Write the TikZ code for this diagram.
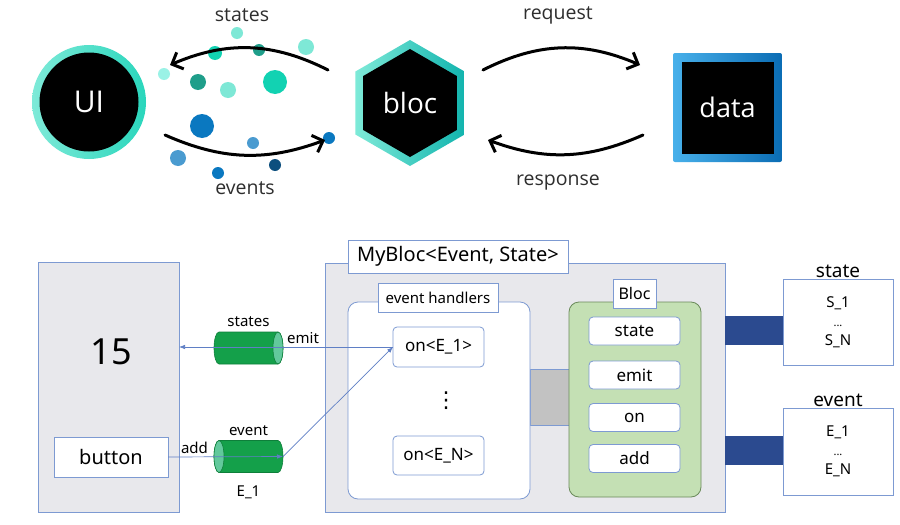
\documentclass[tikz,border=0pt]{standalone}
\usepackage{fontspec}
\setmainfont{Noto Sans}
\newfontfamily\topfont{Open Sans}
\newfontfamily\symfont{DejaVu Sans}
\usetikzlibrary{shapes.geometric,arrows.meta}

\definecolor{panelgray}{HTML}{E8E8EC}
\definecolor{edgeblue}{HTML}{7D9AD2}
\definecolor{wireblue}{HTML}{5F7FC5}
\definecolor{pipegreen}{HTML}{14A04A}
\definecolor{pipeend}{HTML}{62C99C}
\definecolor{pipeedge}{HTML}{0E7F3A}
\definecolor{blocgreen}{HTML}{C4E0B4}
\definecolor{blocedge}{HTML}{6A8A5A}
\definecolor{bargray}{HTML}{C2C2C2}
\definecolor{barblue}{HTML}{2B4A8F}
\definecolor{tealA}{HTML}{7EEAD8}
\definecolor{tealB}{HTML}{2AD6BC}
\definecolor{tealC}{HTML}{12B4AE}
\definecolor{skyA}{HTML}{48B0EA}
\definecolor{skyB}{HTML}{0A6CB4}
\definecolor{dotLight}{HTML}{7EE8D6}
\definecolor{dotMid}{HTML}{12D2B2}
\definecolor{dotDark}{HTML}{1F9E8A}
\definecolor{dotPale}{HTML}{9AF2E6}
\definecolor{dotBlue}{HTML}{0A78C0}
\definecolor{dotSky}{HTML}{4A9BD0}
\definecolor{dotNavy}{HTML}{0D4F7E}
\definecolor{textgray}{HTML}{2E2E2E}

\newcommand{\fsz}[1]{\fontsize{#1}{#1}\selectfont}

\begin{document}
\begin{tikzpicture}[x=1pt, y=-1pt,
    box/.style={draw=edgeblue, fill=white, line width=0.8pt, inner sep=0pt, outer sep=0pt},
    panel/.style={box, fill=panelgray},
    pipe/.style={inner sep=0pt, outer sep=0pt, minimum width=69pt, minimum height=32pt},
    method/.style={box, rounded corners=4pt, minimum width=91pt, minimum height=28pt, font=\fsz{17}},
    wire/.style={draw=wireblue, line width=0.7pt, -{Latex[length=6pt,width=4.5pt]}},
    flow/.style={line width=3pt, line cap=round, -{Straight Barb[length=9pt,width=18pt]}},
    bar/.style={fill=barblue, minimum width=58pt, minimum height=29pt, inner sep=0pt, outer sep=0pt},
    toplabel/.style={font=\topfont\fsz{19.5}, text=textgray}]
  \fill[white] (0,0) rectangle (900,525);

  \node[circle, minimum size=114pt, inner sep=0pt, left color=tealA, right color=tealB] (uiring) at (89,102) {};
  \node[circle, fill=black, minimum size=99pt, inner sep=0pt, text=white, font=\topfont\fsz{30}] (ui) at (uiring) {UI};
  \node[regular polygon, regular polygon sides=6, shape border rotate=30, minimum size=126pt, inner sep=0pt, left color=tealA, right color=tealC] (blocring) at (410,103) {};
  \node[regular polygon, regular polygon sides=6, shape border rotate=30, minimum size=108pt, inner sep=0pt, fill=black, text=white, font=\topfont\fsz{28}] (bloc) at (blocring) {bloc};
  \node[minimum size=109pt, rounded corners=2pt, left color=skyA, right color=skyB] (dataring) at (727.5,107.5) {};
  \node[minimum size=92pt, fill=black, text=white, font=\topfont\fsz{27}] (data) at (dataring) {data};

  \foreach \x/\y/\r/\c in {237/33/6/dotLight, 215/53/7/dotMid, 259/50/6/dotDark, 306/47/8/dotLight, 164/74/6/dotPale, 198/82/8/dotDark, 228/90/8/dotLight, 275/82/12/dotMid, 202/126/12/dotBlue, 253/143/6/dotSky, 329/138/6/dotBlue, 178/158/8/dotSky, 218/173/6/dotBlue, 275/165/6/dotNavy}
    \fill[\c] (\x,\y) circle[radius=\r pt];

  \coordinate (sA) at (328,70);
  \coordinate (sB) at (170,65);
  \coordinate (eA) at (165,135);
  \coordinate (eB) at (325,140);
  \coordinate (qA) at (483,70);
  \coordinate (qB) at (640,65);
  \coordinate (rA) at (643,135);
  \coordinate (rB) at (488,140);
  \draw[flow] (sA) to[bend right=25] (sB);
  \draw[flow] (eA) to[bend right=22] (eB);
  \draw[flow] (qA) to[bend left=25] (qB);
  \draw[flow] (rA) to[bend left=22] (rB);

  \node[toplabel] (stateslabel) at (242,15) {states};
  \node[toplabel] (eventslabel) at (245,188) {events};
  \node[toplabel] (requestlabel) at (558,15) {request};
  \node[toplabel] (responselabel) at (558,183) {response};

  \node[panel, minimum width=141pt, minimum height=250pt] (uibox) at (108.5,387) {};
  \node[font=\fsz{36}] (count) at (111,352) {15};
  \node[box, minimum width=114pt, minimum height=40pt, font=\fsz{20}] (button) at (111,457) {button};

  \node[pipe, label={[font=\fsz{15}, inner sep=2pt, label distance=3pt]above:states}] (st) at (248.5,348) {};
  \node[pipe, label={[font=\fsz{15}, inner sep=2pt, label distance=3pt]above:event}, label={[font=\fsz{15}, label distance=10pt]below:E\_1}] (ev) at (248.5,456.5) {};
  \foreach \p/\s in {st/1, ev/-1} {
    \filldraw[fill=pipegreen, draw=pipeedge, line width=0.6pt] ([xshift=5pt]\p.north west) -- ([xshift=-5pt]\p.north east)
      arc[start angle=90, end angle=-90, x radius=5pt, y radius=16pt] -- ([xshift=5pt]\p.south west)
      arc[start angle=270, end angle=90, x radius=5pt, y radius=16pt] -- cycle;
    \filldraw[fill=pipeend, draw=pipeedge, line width=0.6pt] ([xshift=\s*29.5pt]\p.center) ellipse[x radius=5pt, y radius=16pt];
  }

  \node[panel, minimum width=400pt, minimum height=249pt] (mybloc) at (525,387.5) {};
  \node[box, minimum width=220pt, minimum height=33pt, font=\fsz{20}] (title) at (458,256.5) {MyBloc<Event, State>};
  \node[panel, fill=bargray, minimum width=39pt, minimum height=56pt] (link) at (549.5,397) {};
  \node[box, rounded corners=10pt, minimum width=182pt, minimum height=197pt] (handlers) at (439,400.5) {};
  \node[box, minimum width=120pt, minimum height=29pt, font=\fsz{15}] (handlerslabel) at (438,297.5) {event handlers};
  \node[method, minimum height=40pt] (onE1) at (438.5,347) {on<E\_1>};
  \node[font=\symfont\fsz{22}] (more) at (446,401) {⋮};
  \node[method, minimum height=39pt] (onEN) at (438.5,455.5) {on<E\_N>};

  \node[box, fill=blocgreen, draw=blocedge, rounded corners=10pt, minimum width=132pt, minimum height=195pt] (blocbox) at (635,399.5) {};
  \node[box, minimum width=43pt, minimum height=29pt, font=\fsz{16}] (bloclabel) at (634.5,293.5) {Bloc};
  \foreach \m/\y in {state/331, emit/375, on/417.5, add/458.5}
    \node[method] (m-\m) at (634.5,\y) {\m};

  \node[bar] (statebar) at (754,330.5) {};
  \node[bar] (eventbar) at (754,450.5) {};
  \node[box, minimum width=110pt, minimum height=86pt, align=center, font=\fontsize{15}{19}\selectfont, label={[font=\fsz{19}, inner sep=1pt]above:state}] (statebox) at (838,322) {S\_1\\{\fsz{11}...}\\S\_N};
  \node[box, minimum width=110pt, minimum height=87pt, align=center, font=\fontsize{15}{19}\selectfont, label={[font=\fsz{19}, inner sep=1pt]above:event}] (eventbox) at (838,451.5) {E\_1\\{\fsz{11}...}\\E\_N};

  \draw[wire] (onE1.west) -- (uibox.east |- onE1.west) node[pos=0.42, above, font=\fsz{15}] {emit};
  \draw[wire] (button.east) -- (ev.east) node[pos=0.23, above, font=\fsz{15}] {add};
  \draw[wire] (ev.east) -- (onE1.west);
\end{tikzpicture}
\end{document}
